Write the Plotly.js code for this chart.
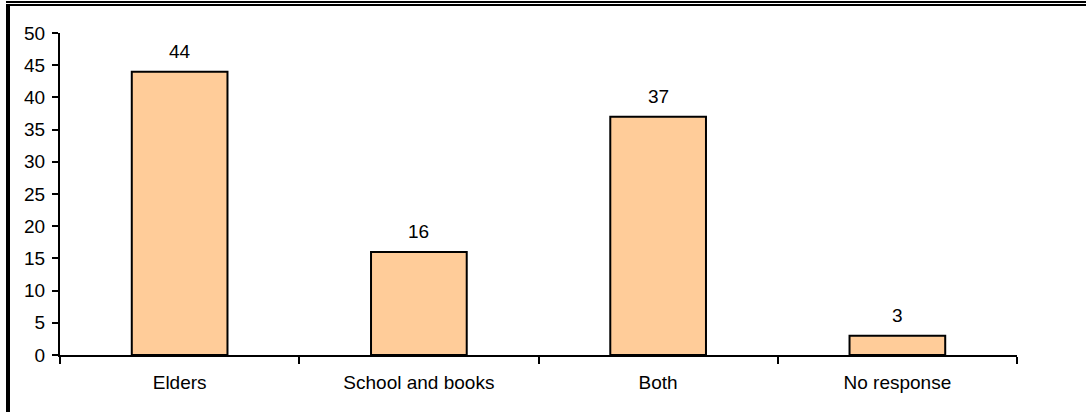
<!DOCTYPE html>
<html>
<head>
<meta charset="utf-8">
<script src="https://cdn.plot.ly/plotly-3.0.1.min.js"></script>
<style>
html,body{margin:0;padding:0;background:#fff;}
#wrap{position:relative;width:1086px;height:412px;overflow:hidden;}
#chart{width:1086px;height:412px;}
.ln{position:absolute;background:#000;}
</style>
</head>
<body>
<div id="wrap">
<div id="chart"></div>
<div class="ln" style="left:6px;top:1px;width:1080px;height:2px;"></div>
<div class="ln" style="left:6px;top:4px;width:1080px;height:2px;"></div>
<div class="ln" style="left:6px;top:4px;width:4px;height:408px;"></div>
</div>
<script>
var categories = ["Elders", "School and books", "Both", "No response"];
var values = [44, 16, 37, 3];
var yTicks = [0, 5, 10, 15, 20, 25, 30, 35, 40, 45, 50];

var FONT = "Liberation Sans, Arial, sans-serif";

var trace = {
  type: "bar",
  x: categories,
  y: values,
  marker: {color: "#FFCC99", line: {color: "#000000", width: 2}},
  hoverinfo: "none"
};

var annotations = categories.map(function(c, i){
  return {x: c, y: values[i], xref: "x", yref: "y", text: String(values[i]),
    showarrow: false, yanchor: "bottom", yshift: 8,
    font: {family: FONT, size: 19, color: "#000"}};
});

var layout = {
  width: 1086, height: 412,
  margin: {l: 60, r: 69, t: 33, b: 57, pad: 0},
  paper_bgcolor: "rgba(0,0,0,0)",
  plot_bgcolor: "rgba(0,0,0,0)",
  font: {family: FONT, size: 19, color: "#000"},
  bargap: 0.6,
  showlegend: false,
  xaxis: {
    type: "category",
    showline: true, linecolor: "#000", linewidth: 2,
    ticks: "outside", tickson: "boundaries", ticklen: 7, tickwidth: 2, tickcolor: "#000",
    showgrid: false, zeroline: false, fixedrange: true,
    ticklabelstandoff: 9,
    tickfont: {family: FONT, size: 19, color: "#000"}
  },
  yaxis: {
    range: [0, 50],
    tickvals: yTicks,
    showline: true, linecolor: "#000", linewidth: 2,
    ticks: "outside", ticklen: 6, tickwidth: 2, tickcolor: "#000",
    showgrid: false, zeroline: false, fixedrange: true,
    ticklabelstandoff: 3,
    tickfont: {family: FONT, size: 19, color: "#000"}
  },
  annotations: annotations
};

Plotly.newPlot("chart", [trace], layout, {displayModeBar: false, staticPlot: true});
</script>
</body>
</html>
